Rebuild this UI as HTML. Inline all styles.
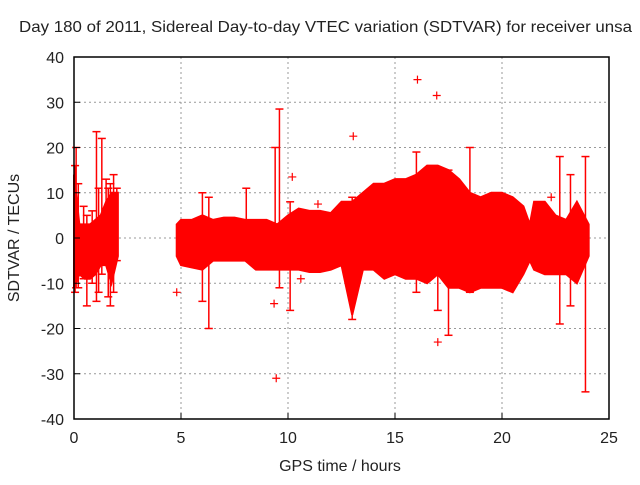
<!DOCTYPE html>
<html><head><meta charset="utf-8"><style>
body{margin:0;background:#fff}
svg text{font-family:"Liberation Sans",sans-serif;font-size:16px;fill:#222}
</style></head><body>
<svg id="chart" width="640" height="480" xmlns="http://www.w3.org/2000/svg">
<text x="19" y="32" textLength="613" lengthAdjust="spacingAndGlyphs">Day 180 of 2011, Sidereal Day-to-day VTEC variation (SDTVAR) for receiver unsa</text>
<text x="340" y="471" text-anchor="middle">GPS time / hours</text>
<text transform="translate(19,238) rotate(-90)" text-anchor="middle">SDTVAR / TECUs</text>
<g id="grid"></g>
<g id="marks"></g>
<g id="axes"></g>
</svg>
<script>
const xTicks=[0,5,10,15,20,25];
const yTicks=[-40,-30,-20,-10,0,10,20,30,40];
const segATime=[0,0.25,0.5,0.75,1.0,1.25,1.5,1.75,2.05];
const segAHi=[14,3,3,3,4,5,8,10,10];
const segALo=[-11,-8,-9,-9,-8,-6,-6,-10,-4];
const segBTime=[4.8,5.0,5.5,6.0,6.5,7.0,7.5,8.0,8.5,9.0,9.5,10.0,10.5,11.0,11.5,12.0,12.5,13.0,13.5,14.0,14.5,15.0,15.5,16.0,16.5,17.0,17.5,18.0,18.5,19.0,19.5,20.0,20.5,21.0,21.3,21.5,22.0,22.5,23.0,23.5,24.05];
const segBHi=[3,4,4,5,4,4.5,4.5,4,4,4,3,5,6.5,6,6,5.5,8,8,10,12,12,13,13,14,16,16,15,13,10,9,10,10,9,7,3,8,8,5,4,8,3];
const segBLo=[-4,-6,-6.5,-7,-5,-5,-5,-5,-7,-7,-7,-7,-7,-7.5,-7.5,-7,-6,-17,-7,-7,-9,-8,-9,-9,-10,-8,-11,-11,-12,-11,-11,-11,-12,-8,-5,-7,-8,-8,-8,-10,-4];
const spikeTime=[0.1,1.05,1.3,0.6,1.7,6.0,6.3,8.05,9.6,9.4,10.1,13.0,16.0,17.5,17.0,18.5,22.7,23.9,23.2,0.05,0.2,0.45,0.85,1.15,1.5,1.85,2.0,1.6];
const spikeLo=[-11,-14,-8,-15,-15,-14,-20,-3,-11,-3,-16,-18,-12,-21.5,-16,-12,-19,-34,-15,-12,-11,-9,-10,-12,-6,-12,-5,-13];
const spikeHi=[20,23.5,22,5,12,10,9,11,28.5,20,8,9,19,15,12,20,18,18,14,16,12,7,6,11,13,14,11,11];
const outTime=[4.8,9.35,9.45,10.2,10.6,11.4,13.05,16.05,16.95,17.0,22.3];
const outVal=[-12,-14.5,-31,13.5,-9,7.5,22.5,35,31.5,-23,9];

const L=74,R=609,T=57,B=419;
const xs=v=>L+(v-0)/25*(R-L);
const ys=v=>B-(v+40)/80*(B-T);
const NS='http://www.w3.org/2000/svg';
function mk(tag,parent,attrs){const e=document.createElementNS(NS,tag);for(const k in attrs)e.setAttribute(k,attrs[k]);parent.appendChild(e);return e;}
const grid=document.getElementById('grid'),marks=document.getElementById('marks'),axes=document.getElementById('axes');
xTicks.forEach(t=>{
  if(t>0&&t<25){const g=mk('line',grid,{x1:xs(t),x2:xs(t),y1:T,y2:B,stroke:'#999','stroke-dasharray':'2,3'});
  }
  const tk=mk('line',axes,{x1:xs(t),x2:xs(t),y1:B,y2:B-6,stroke:'#000'});
  
  const tx=mk('text',axes,{x:xs(t),y:B+24,'text-anchor':'middle'});tx.textContent=t;
  
});
yTicks.forEach(t=>{
  if(t>-40&&t<40){const g=mk('line',grid,{x1:L,x2:R,y1:ys(t),y2:ys(t),stroke:'#999','stroke-dasharray':'2,3'});
  }
  const tk=mk('line',axes,{x1:L,x2:L+6,y1:ys(t),y2:ys(t),stroke:'#000'});
  
  const tx=mk('text',axes,{x:L-10,y:ys(t)+6,'text-anchor':'end'});tx.textContent=t;
  
});
const fr=mk('rect',axes,{x:L,y:T,width:R-L,height:B-T,fill:'none',stroke:'#000','stroke-width':1.5});

function band(tm,hi,lo,name){
  let d='M'+tm.map((t,i)=>xs(t)+','+ys(hi[i])).join('L');
  for(let i=tm.length-1;i>=0;i--)d+='L'+xs(tm[i])+','+ys(lo[i]);
  const p=mk('path',marks,{d:d+'Z',fill:'#ff0000',stroke:'#ff0000','stroke-width':2});
  
}
band(segATime,segAHi,segALo,'band-early');
band(segBTime,segBHi,segBLo,'band-main');
spikeTime.forEach((t,i)=>{
  const x=xs(t);
  const s=mk('line',marks,{x1:x,x2:x,y1:ys(spikeLo[i]),y2:ys(spikeHi[i]),stroke:'#ff0000','stroke-width':1.5});
  
  [spikeLo[i],spikeHi[i]].forEach(v=>{
    const c=mk('line',marks,{x1:x-4,x2:x+4,y1:ys(v),y2:ys(v),stroke:'#ff0000','stroke-width':1.5});
    
  });
});
outTime.forEach((t,i)=>{
  const x=xs(t),y=ys(outVal[i]);
  const p=mk('path',marks,{d:`M${x-4},${y}H${x+4}M${x},${y-4}V${y+4}`,stroke:'#ff0000','stroke-width':1.2});
  
});
</script>
</body></html>
